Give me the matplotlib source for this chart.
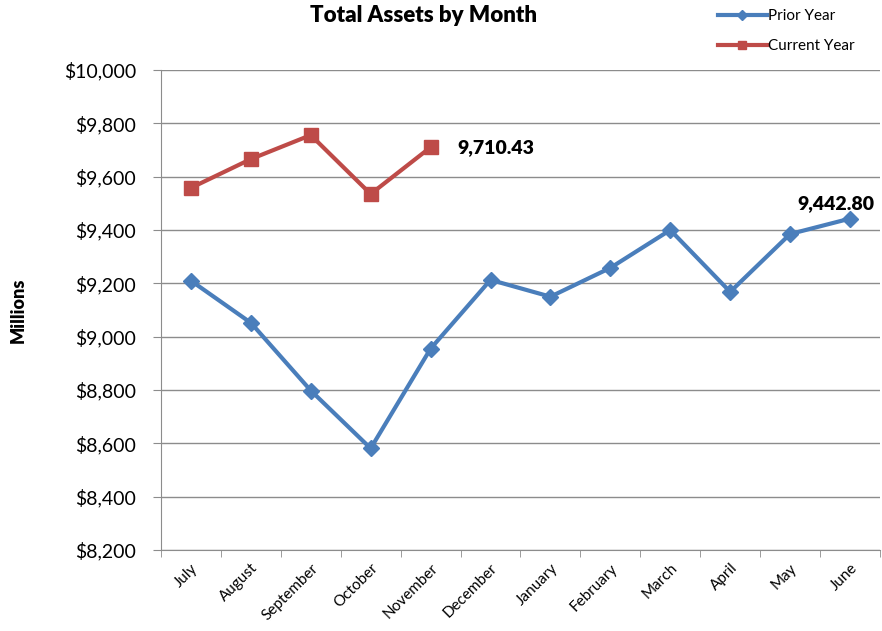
import matplotlib
matplotlib.use('Agg')
import matplotlib.pyplot as plt
import numpy as np

plt.rcParams['font.family'] = ['Lato', 'DejaVu Sans']

months = ['July', 'August', 'September', 'October', 'November', 'December',
          'January', 'February', 'March', 'April', 'May', 'June']
prior_year = [9210, 9052, 8798, 8581, 8955, 9213, 9150, 9258, 9400, 9168, 9385, 9442.80]
current_year = [9558, 9666, 9756, 9535, 9710.43]

y_ticks = [8200, 8400, 8600, 8800, 9000, 9200, 9400, 9600, 9800, 10000]

fig = plt.figure(figsize=(8.82, 6.31), dpi=100)
ax = fig.add_axes([0.1825, 0.1284, 0.8152, 0.7606])

x = np.arange(len(months))
blue = '#4a7ebb'
red = '#be4b48'

ax.plot(x, prior_year, color=blue, lw=3, marker='D', ms=8, label='Prior Year', zorder=3)
ax.plot(x[:len(current_year)], current_year, color=red, lw=3, marker='s', ms=10,
        label='Current Year', zorder=3)

ax.annotate('9,710.43', (x[len(current_year) - 1], current_year[-1]), xytext=(19, 0),
            textcoords='offset points', fontsize=14, fontweight='heavy', va='center')
ax.annotate('9,442.80', (x[-1], prior_year[-1]), xytext=(-10, 5),
            textcoords='offset points', fontsize=14, fontweight='heavy', ha='center', va='bottom')

ax.set_xlim(-0.5, len(months) - 0.5)
ax.set_ylim(8200, 10000)
ax.set_yticks(y_ticks)
ax.set_yticklabels(['${:,}'.format(v) for v in y_ticks], fontsize=14)
ax.yaxis.grid(True, color='#8c8c8c', lw=1)
ax.set_axisbelow(True)

ax.set_xticks(x)
ax.set_xticklabels(months, rotation=45, ha='right', rotation_mode='anchor', fontsize=11)
ax.tick_params(axis='x', length=0, pad=8)
ax.set_xticks(np.arange(len(months) + 1) - 0.5, minor=True)
ax.tick_params(axis='x', which='minor', length=5, color='#8c8c8c')
ax.tick_params(axis='y', length=6, color='#8c8c8c', pad=12)

for s in ['top', 'right']:
    ax.spines[s].set_visible(False)
for s in ['left', 'bottom']:
    ax.spines[s].set_color('#8c8c8c')

ax.set_ylabel('Millions', fontsize=13, fontweight='heavy')
ax.yaxis.set_label_coords(-0.186, 0.5)
fig.text(0.48, 0.975, 'Total Assets by Month', ha='center', va='center',
         fontsize=16, fontweight='heavy')

fig.legend(loc='upper right', bbox_to_anchor=(0.985, 1.007), frameon=False, fontsize=11,
           handlelength=3.2, handletextpad=0.1, labelspacing=1.05, markerscale=0.6)

fig.savefig('out.png', dpi=100)
